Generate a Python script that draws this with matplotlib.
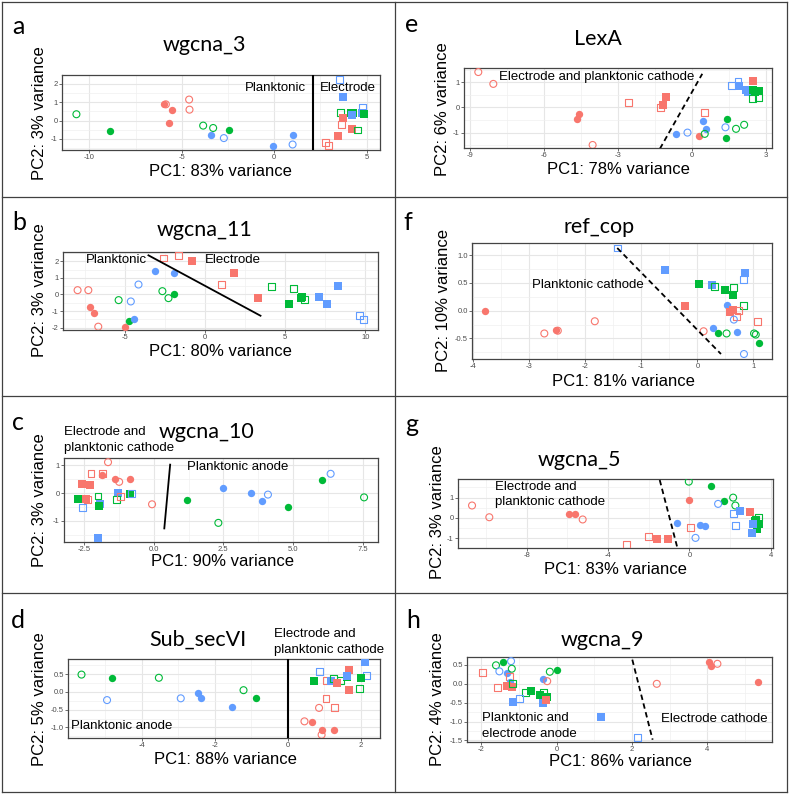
import matplotlib
matplotlib.use('Agg')
import matplotlib.pyplot as plt
from matplotlib.lines import Line2D
import numpy as np

plt.rcParams['axes.unicode_minus'] = False

W, H = 789, 794
COLORS = {'r': '#F8766D', 'g': '#00BA38', 'b': '#619CFF'}
# shape codes: o filled circle, c open circle, s filled square, q open square

# ---------------- panel a : wgcna_3
a_x = [-10.7, -8.9, -5.98, -5.86, -4.6, -5.5, -4.58, -5.7, -3.84, -3.3, -2.45, -3.44, -2.72, -0.07, 1.0, 1.0,
       3.53, 3.75, 3.6, 4.14, 4.29, 4.2, 4.79, 4.74, 4.88, 3.75, 3.66, 4.2, 4.5, 3.44, 2.79, 2.94]
a_y = [0.35, -0.55, 0.89, 0.89, 1.15, 0.56, 0.6, -0.15, -0.27, -0.4, -0.5, -0.76, -0.95, -1.38, -0.76, -1.3,
       2.27, 1.27, 0.47, 0.4, 0.4, 0.31, 0.73, 0.4, 0.35, 0.13, -0.2, -0.44, -0.51, -0.82, -1.18, -1.33]
a_col = "ggrrrrrrgggbbbbb" + "bbgggbbbgrrrgrrr"
a_shp = "cooccococcoocooc" + "qsqsssqsssqsqsqq"
a_line_x = [2.09, 2.09]
a_line_y = [-1.6, 2.49]

# ---------------- panel e : LexA
e_x = [-8.68, -8.07, -4.61, -4.66, -4.04, -2.59, -1.05, -1.18, -1.28, 0.49, 0.45, 0.57, -0.66, -0.19, 0.27, 0.51,
       1.42, 1.38, 1.35, 1.78, 2.11, 1.59, 1.86, 1.9, 2.18, 2.27, 2.47, 2.47, 2.7, 2.45, 2.7, 2.54]
e_y = [1.4, 0.93, -0.28, -0.45, -1.49, 0.2, 0.43, 0.11, 0.01, -0.19, -0.53, -0.84, -1.07, -1.0, -1.12, -1.05,
       -0.45, -1.21, -0.79, -0.85, -0.69, 0.88, 1.03, 0.83, 0.69, 0.6, 1.03, 0.67, 0.65, 0.36, 0.4, 0.59]
e_col = "rrrrrrrrrrbbbbrg" + "ggbggbbbbbrggggg"
e_shp = "ccoocqssqqooococ" + "oocccqqssssssqqs"
e_line_x = [-1.31, 0.41]
e_line_y = [-1.64, 1.33]

# ---------------- panel b : wgcna_11
b_x = [-7.95, -7.28, -7.2, -6.91, -6.66, -4.98, -4.75, -4.42, -5.39, -4.63, -4.15, -3.09, -1.95, -2.66, -2.28, -1.95,
       -2.59, -1.66, -0.83, 1.04, 1.83, 3.28, 4.17, 5.5, 5.25, 6.02, 5.98, 6.22, 7.12, 7.63, 8.32, 9.65, 9.9]
b_y = [0.26, 0.26, -0.78, -1.14, -1.94, -1.94, -1.62, -1.5, -0.34, -0.42, 0.6, 1.4, 1.28, 0.2, -0.22, 0.0,
       2.2, 2.36, 2.0, 0.58, 1.3, -0.22, 0.48, 0.34, -0.56, -0.14, -0.24, -0.28, -0.14, -0.6, 0.52, -1.24, -1.48]
b_col = "rrrrrrgbgbbbbggg" + "rrrrrrggggggbbbbb"
b_shp = "ccoocooocccoocco" + "qqsqssqqsssqsssqq"
b_line_x = [-3.53, 3.46]
b_line_y = [2.36, -1.28]

# ---------------- panel f : ref_cop
f_x = [-3.79, -2.73, -2.53, -2.49, -1.83, -1.43, -0.58, 0.03, 0.26, 0.31, 0.49, 0.65, 0.63, 0.85, 0.83, -0.23,
       0.82, 0.53, 0.64, 0.58, 0.73, 0.7, 0.65, 1.07, 0.11, 0.28, 0.36, 0.52, 0.7, 1.01, 1.04, 1.1, 0.83]
f_y = [-0.01, -0.41, -0.34, -0.36, -0.19, 1.13, 0.73, 0.49, 0.46, 0.44, 0.38, 0.42, 0.29, 0.68, 0.57, 0.08,
       0.09, 0.1, 0.01, -0.02, 0.01, -0.1, -0.16, -0.19, -0.37, -0.32, -0.4, -0.41, -0.38, -0.41, -0.43, -0.59, -0.78]
f_col = "rrrrrbbgbggggbbr" + "gbrrrrbrrbggbgggb"
f_shp = "ococcqsssqsqssqs" + "qossqqcqcoococcoc"
f_line_x = [-1.43, 0.42]
f_line_y = [1.13, -0.78]

# ---------------- panel c : wgcna_10
c_x = [-1.64, -2.25, -1.84, -1.84, -1.39, -1.24, -0.86, -2.56, -2.27, -2.44, -2.39, -2.7, -2.54, -2.0, -1.94, -1.97,
       -1.28, -1.34, -1.2, -0.86, -0.8, -2.0, -0.06, 1.21, 2.32, 2.5, 3.5, 3.9, 4.1, 4.82, 6.05, 6.35, 7.55]
c_y = [1.12, 0.72, 0.72, 0.65, 0.51, 0.41, 0.51, 0.34, 0.3, -0.22, -0.24, -0.22, -0.51, -0.1, -0.39, -0.46,
       0.01, -0.21, -0.12, -0.02, -0.02, -1.6, -0.4, -0.24, -1.07, 0.17, -0.01, -0.27, -0.05, -0.48, 0.46, 0.7, -0.15]
c_col = "rrrrrrrrrrrgbgbg" + "bgrgbbrggbbbbggbg"
c_shp = "cqqoocosssqsqqss" + "sqqsqscocooocoocc"
c_line_x = [0.38, 0.59]
c_line_y = [-1.27, 1.03]

# ---------------- panel g : wgcna_5
g_x = [-10.69, -9.84, -5.93, -5.62, -5.25, -3.1, -2.03, -1.61, -1.05, -0.62, -0.03, -0.03, 0.05, 0.3, 1.05, 1.7,
       1.41, 0.51, 0.77, 2.15, 2.26, 2.49, 2.15, 2.97, 2.28, 3.38, 3.26, 3.21, 3.43, 3.3, 3.13, 3.1]
g_y = [0.61, 0.03, 0.17, 0.17, -0.08, -1.32, -0.93, -1.06, -1.06, -0.26, 1.79, 0.89, -0.5, -0.99, 1.59, 0.83,
       0.69, -0.33, -0.41, 1.0, 0.61, 0.35, 0.21, 0.28, -0.38, 0.02, -0.07, -0.15, -0.31, -0.55, -0.31, -0.74]
g_col = "rrrrrrrrrbgrrbgg" + "bbbggbbrbgggggbb"
g_shp = "ccoocqqssocoqcoo" + "cooccsqsqqqsssss"
g_line_x = [-1.46, -0.59]
g_line_y = [1.87, -1.49]

# ---------------- panel d : Sub_secVI
d_x = [-5.65, -4.81, -3.53, -4.95, -2.93, -2.45, -2.38, -1.53, -1.21, -0.86,
       0.87, 2.12, 1.69, 2.15, 0.72, 1.07, 1.18, 1.25, 1.44, 1.34, 1.62, 1.62, 2.0, 1.67, 1.96, 1.05, 0.86, 1.28,
       0.46, 0.66, 0.93, 0.93, 1.28]
d_y = [0.49, 0.38, 0.4, -0.23, -0.18, -0.02, -0.18, -0.43, 0.05, -0.16,
       0.57, 0.85, 0.63, 0.46, 0.3, 0.33, 0.32, 0.37, 0.33, 0.25, 0.42, 0.46, 0.4, 0.05, 0.09, -0.18, -0.45, -0.45,
       -0.83, -0.85, -1.08, -1.21, -1.08]
d_col = "gggbbbbbgg" + "bbrbgrbggrgbgrgrrr" + "rrrrr"
d_shp = "cocccoooco" + "qssqsqsqqsssssqqcq" + "cooco"
d_line_x = [0.02, 0.02]
d_line_y = [-1.30, 0.93]

# ---------------- panel h : wgcna_9
h_x = [-1.98, -1.61, -1.43, -1.21, -1.52, -1.31, -1.19, -1.26, -1.25, -1.56, -1.32, -1.19, -1.17, -0.83, -0.67, -0.98,
       -1.17, -0.45, -0.34, -0.37, -0.25, -0.36, -0.28, -0.35, -0.25, -0.18, 0.0, 1.19, 2.16, 2.66, 4.05, 4.1, 4.27, 5.36]
h_y = [0.3, 0.49, 0.57, 0.6, 0.33, 0.28, 0.4, 0.2, 0.04, -0.09, -0.05, -0.09, 0.02, -0.23, -0.18, -0.39,
       -0.47, -0.3, -0.23, -0.34, -0.36, -0.5, -0.44, 0.12, 0.07, 0.32, 0.37, -0.87, -1.41, 0.0, 0.59, 0.46, 0.53, 0.04]
h_col = "rggbbbgrbrrrgggb" + "bgggg" + "brbrgg" + "bbrrrrr"
h_shp = "qcoccocqoqssqqsq" + "ssqss" + "ssocco" + "sqcooco"
h_line_x = [2.01, 2.55]
h_line_y = [0.64, -1.48]

LABELS = ["a", "b", "c", "d", "e", "f", "g", "h"]
TITLES = ["wgcna_3", "wgcna_11", "wgcna_10", "Sub_secVI", "LexA", "ref_cop", "wgcna_5", "wgcna_9"]
XLABELS = ["PC1: 83% variance", "PC1: 80% variance", "PC1: 90% variance", "PC1: 88% variance",
           "PC1: 78% variance", "PC1: 81% variance", "PC1: 83% variance", "PC1: 86% variance"]
YLABELS = ["PC2: 3% variance", "PC2: 3% variance", "PC2: 3% variance", "PC2: 5% variance",
           "PC2: 6% variance", "PC2: 10% variance", "PC2: 3% variance", "PC2: 4% variance"]

fig = plt.figure(figsize=(W / 100, H / 100), dpi=100)
fig.patch.set_facecolor('white')

AXFONT = 'Liberation Sans'
TFONT = 'Lato'


def fx(px):
    return px / W


def fy(py):
    return 1 - py / H


def mids(ticks, lo, hi):
    step = ticks[1] - ticks[0]
    m = np.arange(ticks[0] - step / 2, hi + step, step)
    return [v for v in m if lo <= v <= hi]


def draw_panel(p):
    L, T, R, B = p['box']
    ax = fig.add_axes([fx(L), fy(B), fx(R) - fx(L), fy(T) - fy(B)])
    ax.set_xlim(*p['xlim'])
    ax.set_ylim(*p['ylim'])
    ax.set_xticks(p['xt'])
    ax.set_xticklabels(p['xtl'])
    ax.set_yticks(p['yt'])
    ax.set_yticklabels(p['ytl'])
    ax.set_xticks(mids(p['xt'], *p['xlim']), minor=True)
    ax.set_yticks(mids(p['yt'], *p['ylim']), minor=True)
    ax.grid(which='major', color='#E6E6E6', lw=0.8)
    ax.grid(which='minor', color='#F0F0F0', lw=0.5)
    ax.set_axisbelow(True)
    for s in ax.spines.values():
        s.set_color('#444444')
        s.set_linewidth(0.9)
    ax.tick_params(which='major', length=2, width=0.5, color='#333333', labelsize=5.5,
                   labelcolor='#4D4D4D', pad=1)
    ax.tick_params(which='minor', length=0)
    for lab in ax.get_xticklabels() + ax.get_yticklabels():
        lab.set_fontfamily(AXFONT)
    x = np.array(p['x']); y = np.array(p['y'])
    col = list(p['col']); shp = list(p['shp'])
    for i in range(len(x)):
        c = COLORS[col[i]]
        s = shp[i]
        if s == 'o':
            ax.scatter(x[i], y[i], s=28, marker='o', color=c, linewidths=0, zorder=3)
        elif s == 'c':
            ax.scatter(x[i], y[i], s=25, marker='o', facecolors='none', edgecolors=c, linewidths=0.8, zorder=3)
        elif s == 's':
            ax.scatter(x[i], y[i], s=30, marker='s', color=c, linewidths=0, zorder=3)
        else:
            ax.scatter(x[i], y[i], s=25, marker='s', facecolors='none', edgecolors=c, linewidths=0.8, zorder=3)
    if p['ls'] == '--':
        ax.plot(p['lx'], p['ly'], color='black', lw=p['lw'], ls='--', dashes=(3, 2), zorder=4)
    else:
        ax.plot(p['lx'], p['ly'], color='black', lw=p['lw'], ls='-', zorder=4)
    for (tx, ty, t, ha) in p['texts']:
        ax.text(tx, ty, t, ha=ha, va='center', fontsize=9.5, fontfamily=AXFONT, zorder=5)
    lx, ly = p['lab_pos']
    fig.text(fx(lx), fy(ly), p['label'], ha='center', va='center', fontsize=18, fontfamily=TFONT)
    tx, ty = p['title_pos']
    fig.text(fx(tx), fy(ty), p['title'], ha='center', va='center', fontsize=15.5, fontfamily=TFONT)
    xx, xy = p['xl_pos']
    fig.text(fx(xx), fy(xy), p['xlabel'], ha='center', va='center', fontsize=12, fontfamily=AXFONT)
    yx, yy = p['yl_pos']
    fig.text(fx(yx), fy(yy), p['ylabel'], ha='center', va='center', rotation=90, fontsize=12, fontfamily=AXFONT)
    for (ex, ey, t) in p.get('ftexts', []):
        fig.text(fx(ex), fy(ey), t, ha='left', va='center', fontsize=9.5, fontfamily=AXFONT)
    return ax


panels = [
    dict(x=a_x, y=a_y, col=a_col, shp=a_shp, box=(62, 75, 380, 150), xlim=(-11.48, 5.73), ylim=(-1.6, 2.49),
         xt=[-10, -5, 0, 5], xtl=['-10', '-5', '0', '5'], yt=[-1, 0, 1, 2], ytl=['-1', '0', '1', '2'],
         lx=a_line_x, ly=a_line_y, lw=1.5, ls='-',
         texts=[(0.05, 1.76, 'Planktonic', 'center'), (4.0, 1.76, 'Electrode', 'center')],
         lab_pos=(18, 27), title_pos=(204, 45), xl_pos=(220, 172), yl_pos=(40, 113)),
    dict(x=b_x, y=b_y, col=b_col, shp=b_shp, box=(63, 252, 378, 330), xlim=(-8.86, 10.79), ylim=(-2.14, 2.56),
         xt=[-5, 0, 5, 10], xtl=['-5', '0', '5', '10'], yt=[-2, -1, 0, 1, 2], ytl=['-2', '-1', '0', '1', '2'],
         lx=b_line_x, ly=b_line_y, lw=1.3, ls='-',
         texts=[(-5.5, 2.06, 'Planktonic', 'center'), (1.72, 2.1, 'Electrode', 'center')],
         lab_pos=(19, 223), title_pos=(205, 230), xl_pos=(220, 352), yl_pos=(40, 290)),
    dict(x=c_x, y=c_y, col=c_col, shp=c_shp, box=(64, 458, 378, 542), xlim=(-3.22, 8.05), ylim=(-1.76, 1.27),
         xt=[-2.5, 0, 2.5, 5, 7.5], xtl=['-2.5', '0.0', '2.5', '5.0', '7.5'], yt=[-1, 0, 1], ytl=['-1', '0', '1'],
         lx=c_line_x, ly=c_line_y, lw=1.3, ls='-',
         texts=[(3.03, 0.93, 'Planktonic anode', 'center')],
         ftexts=[(64, 432, 'Electrode and'), (64, 448, 'planktonic cathode')],
         lab_pos=(18, 423), title_pos=(207, 432), xl_pos=(222, 562), yl_pos=(40, 500)),
    dict(x=d_x, y=d_y, col=d_col, shp=d_shp, box=(68, 659, 380, 738), xlim=(-6.02, 2.53), ylim=(-1.30, 0.93),
         xt=[-4, -2, 0, 2], xtl=['-4', '-2', '0', '2'], yt=[-1.0, -0.5, 0, 0.5], ytl=['-1.0', '-0.5', '0.0', '0.5'],
         lx=d_line_x, ly=d_line_y, lw=1.5, ls='-',
         texts=[(-5.95, -0.95, 'Planktonic anode', 'left')],
         ftexts=[(274, 634, 'Electrode and'), (274, 650, 'planktonic cathode')],
         lab_pos=(18, 620), title_pos=(198, 640), xl_pos=(225, 760), yl_pos=(40, 699)),
    dict(x=e_x, y=e_y, col=e_col, shp=e_shp, box=(464, 68, 772, 148), xlim=(-9.26, 3.24), ylim=(-1.61, 1.56),
         xt=[-9, -6, -3, 0, 3], xtl=['-9', '-6', '-3', '0', '3'], yt=[-1, 0, 1], ytl=['-1', '0', '1'],
         lx=e_line_x, ly=e_line_y, lw=1.3, ls='--',
         texts=[(-3.88, 1.2, 'Electrode and planktonic cathode', 'center')],
         lab_pos=(412, 25), title_pos=(598, 39), xl_pos=(618, 170), yl_pos=(442, 109)),
    dict(x=f_x, y=f_y, col=f_col, shp=f_shp, box=(472, 243, 772, 359), xlim=(-4.02, 1.33), ylim=(-0.87, 1.22),
         xt=[-4, -3, -2, -1, 0, 1], xtl=['-4', '-3', '-2', '-1', '0', '1'], yt=[-0.5, 0, 0.5, 1.0],
         ytl=['-0.5', '0.0', '0.5', '1.0'],
         lx=f_line_x, ly=f_line_y, lw=1.3, ls='--',
         texts=[(-1.95, 0.47, 'Planktonic cathode', 'center')],
         lab_pos=(408, 222), title_pos=(599, 227), xl_pos=(623, 382), yl_pos=(443, 301)),
    dict(x=g_x, y=g_y, col=g_col, shp=g_shp, box=(458, 479, 773, 548), xlim=(-11.38, 4.11), ylim=(-1.49, 1.92),
         xt=[-8, -4, 0, 4], xtl=['-8', '-4', '0', '4'], yt=[-1, 0, 1], ytl=['-1', '0', '1'],
         lx=g_line_x, ly=g_line_y, lw=1.3, ls='--',
         texts=[(-9.57, 1.54, 'Electrode and', 'left'), (-9.57, 0.76, 'planktonic cathode', 'left')],
         lab_pos=(412, 425), title_pos=(579, 460), xl_pos=(615, 569), yl_pos=(437, 512)),
    dict(x=h_x, y=h_y, col=h_col, shp=h_shp, box=(467, 657, 772, 742), xlim=(-2.38, 5.72), ylim=(-1.54, 0.71),
         xt=[-2, 0, 2, 4], xtl=['-2', '0', '2', '4'], yt=[-1.5, -1.0, -0.5, 0, 0.5],
         ytl=['-1.5', '-1.0', '-0.5', '0.0', '0.5'],
         lx=h_line_x, ly=h_line_y, lw=1.3, ls='--',
         texts=[(-1.98, -0.91, 'Planktonic and', 'left'), (-1.98, -1.33, 'electrode anode', 'left'),
                (4.19, -0.92, 'Electrode cathode', 'center')],
         lab_pos=(413, 620), title_pos=(602, 640), xl_pos=(620, 762), yl_pos=(438, 699)),
]

for i, p in enumerate(panels):
    p['label'] = LABELS[i]
    p['title'] = TITLES[i]
    p['xlabel'] = XLABELS[i]
    p['ylabel'] = YLABELS[i]
    draw_panel(p)

# outer frame / grid of boxes
fc = '#404040'
for yy in [2, 197, 396, 593, 792]:
    fig.add_artist(Line2D([fx(2), fx(787)], [fy(yy), fy(yy)], color=fc, lw=0.9))
for xx in [2, 395, 787]:
    fig.add_artist(Line2D([fx(xx), fx(xx)], [fy(2), fy(792)], color=fc, lw=0.9))

fig.savefig('out.png', dpi=100, facecolor='white')
